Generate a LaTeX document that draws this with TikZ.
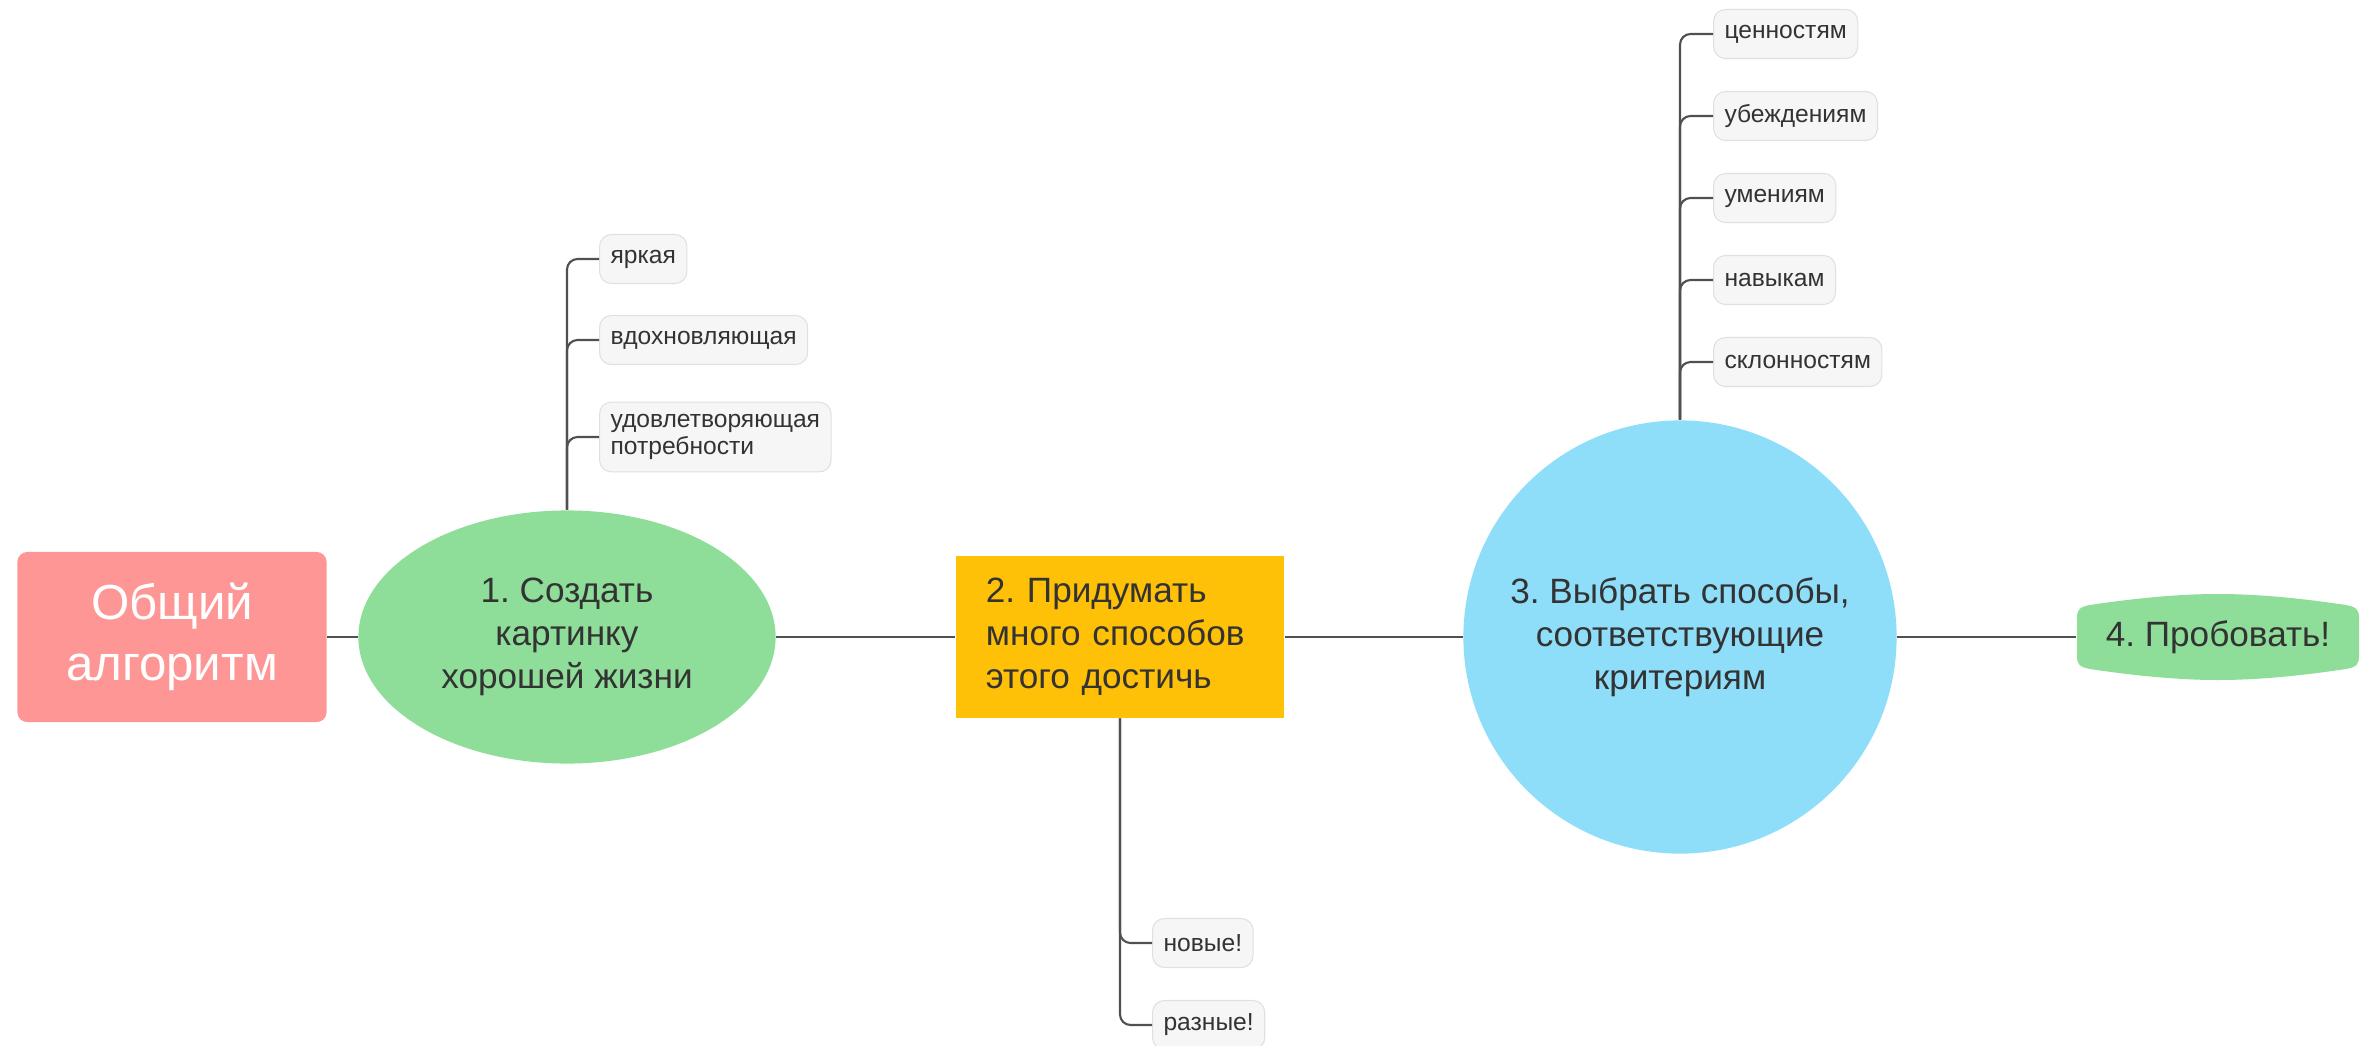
\documentclass[tikz,border=0pt]{standalone}
\usepackage{fontspec}
\setmainfont{Liberation Sans}
\usetikzlibrary{shapes.geometric}
\definecolor{rootpink}{RGB}{255,150,150}
\definecolor{stepgreen}{RGB}{142,222,153}
\definecolor{steporange}{RGB}{255,192,8}
\definecolor{stepblue}{RGB}{143,222,249}
\definecolor{leafgray}{RGB}{246,246,246}
\definecolor{leafedge}{RGB}{224,224,224}
\definecolor{inkgray}{RGB}{51,51,51}
\definecolor{linegray}{RGB}{80,80,80}
\frenchspacing

\begin{document}
\begin{tikzpicture}[x=0.01cm, y=-0.01cm,
	every node/.style={font=\fontsize{10}{12.2}\selectfont, text=inkgray, inner sep=0pt},
	leaf/.style={anchor=west, fill=leafgray, draw=leafedge, line width=0.3pt, rounded corners=3.4pt, minimum height=0.49cm, inner xsep=0.11cm, inner ysep=0.12cm, align=left, font=\fontsize{7}{7.8}\selectfont},
	branch/.style={draw=linegray, line width=0.6pt, rounded corners=3pt}]
	\useasboundingbox (0,0) rectangle (2366,1045);
	\fill[stepgreen] (2077,618) -- (2077,656) .. controls (2077,665) and (2080,667) .. (2090,669) .. controls (2150,678) and (2190,680) .. (2218,680) .. controls (2246,680) and (2286,678) .. (2346,669) .. controls (2356,667) and (2359,665) .. (2359,656) -- (2359,618) .. controls (2359,609) and (2356,607) .. (2346,605) .. controls (2286,596) and (2246,594) .. (2218,594) .. controls (2190,594) and (2150,596) .. (2090,605) .. controls (2080,607) and (2077,609) .. (2077,618) -- cycle;
	\node[fill=rootpink, rounded corners=2.8pt, minimum width=3.09cm, minimum height=1.70cm, align=center, text=white, font=\fontsize{14}{17.5}\selectfont] (root) at (172,637) {Общий\\алгоритм};
	\node[ellipse, fill=stepgreen, minimum width=4.17cm, minimum height=2.53cm, align=center] (s1) at (567,637) {1. Создать\\картинку\\хорошей жизни};
	\node[fill=steporange, minimum width=3.28cm, minimum height=1.61cm, text width=2.68cm, align=left] (s2) at (1120,637) {2. Придумать\\много способов\\этого достичь};
	\node[circle, fill=stepblue, minimum size=4.33cm, align=center] (s3) at (1680,637) {3. Выбрать способы,\\соответствующие\\критериям};
	\node[minimum width=2.82cm, minimum height=0.86cm] (s4) at (2218,637) {4. Пробовать!};
	\node[leaf] (a1) at (599,259) {яркая};
	\node[leaf] (a2) at (599,340) {вдохновляющая};
	\node[leaf] (a3) at (599,437) {удовлетворяющая\\потребности};
	\node[leaf] (b1) at (1152,943) {новые!};
	\node[leaf] (b2) at (1152,1025) {разные!};
	\node[leaf] (c1) at (1713,34) {ценностям};
	\node[leaf] (c2) at (1713,116) {убеждениям};
	\node[leaf] (c3) at (1713,198) {умениям};
	\node[leaf] (c4) at (1713,280) {навыкам};
	\node[leaf] (c5) at (1713,362) {склонностям};
	\draw[branch] (root) -- (s1);
	\draw[branch] (s1) -- (s2);
	\draw[branch] (s2) -- (s3);
	\draw[branch] (s3) -- (s4);
	\draw[branch] (s1.north) |- (a1.west);
	\draw[branch] (s1.north) |- (a2.west);
	\draw[branch] (s1.north) |- (a3.west);
	\draw[branch] (s2.south) |- (b1.west);
	\draw[branch] (s2.south) |- (b2.west);
	\draw[branch] (s3.north) |- (c1.west);
	\draw[branch] (s3.north) |- (c2.west);
	\draw[branch] (s3.north) |- (c3.west);
	\draw[branch] (s3.north) |- (c4.west);
	\draw[branch] (s3.north) |- (c5.west);
\end{tikzpicture}
\end{document}
